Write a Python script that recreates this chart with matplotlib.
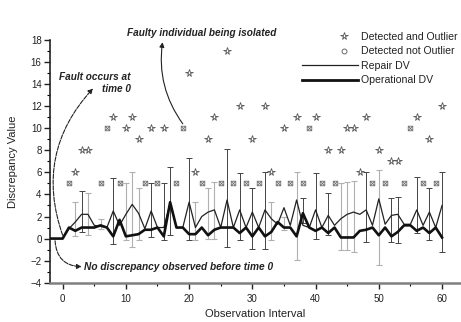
import matplotlib
matplotlib.use('Agg')
import matplotlib.pyplot as plt
import numpy as np
from matplotlib.path import Path
from matplotlib.lines import Line2D
from matplotlib.legend_handler import HandlerLine2DCompound

# ---------------- data ----------------
obs = list(range(-2, 61))
repair_dv = [0, 0, 0, 0.9, 1.5, 2.2, 2.2, 1.2, 1.1, 1.0, 2.5, 1.2, 2.2, 3.1, 2.3, 0.9,
             2.5, 1.0, 1.0, 3.2, 1.0, 1.0, 3.3, 1.0, 2.0, 2.4, 2.6, 1.0, 3.5, 1.0, 2.6,
             1.0, 2.4, 1.0, 2.6, 1.8, 1.3, 2.8, 1.2, 3.5, 1.2, 1.0, 2.6, 1.0, 2.1, 1.2,
             1.8, 2.2, 2.4, 2.2, 2.6, 1.2, 3.6, 1.3, 2.1, 2.2, 1.3, 1.3, 2.6, 1.2, 2.4,
             1.0, 3.0]
operational_dv = [0, 0, 0, 1.0, 0.7, 1.0, 1.0, 1.0, 1.2, 1.0, 0.2, 1.7, 0.2, 0.3, 0.4,
                  0.8, 0.8, 1.0, 0.2, 3.3, 1.0, 1.0, 0.4, 0.4, 1.0, 0.3, 0.8, 1.0, 1.0,
                  1.0, 0.5, 1.0, 0.2, 1.0, 0.2, 0.6, 1.5, 1.0, 1.0, 0.2, 2.3, 1.0, 0.7,
                  1.0, 0.5, 1.0, 0.1, 0.1, 0.1, 0.7, 0.8, 1.0, 0.3, 1.0, 0.2, 0.6, 1.2,
                  1.2, 0.7, 1.0, 0.5, 1.0, 0.1]

# error bars (dark)
dark_err_x = [3, 8, 14, 16, 17, 20, 26, 28, 30, 32, 38, 40, 42, 48, 52, 53, 56, 58, 60]
dark_err_lo = [0.6, -0.5, 0.1, -0.1, 0.3, -0.1, -0.8, -0.1, -0.9, -0.9, 1.4, 0.0, 0.3,
               -0.3, -0.3, -0.4, 0.5, -0.1, -1.2]
dark_err_hi = [4.3, 5.5, 5.0, 5.0, 6.5, 7.3, 8.1, 5.9, 4.6, 6.0, 3.7, 5.9, 4.1,
               6.0, 3.7, 3.8, 5.6, 4.6, 6.0]
# error bars (light)
light_err_x = [2, 4, 6, 10, 11, 12, 21, 23, 24, 33, 35, 37, 44, 45, 46, 50]
light_err_lo = [0.2, 0.3, 0.9, -0.1, -0.75, -0.1, -0.1, 0.0, 0.0, -0.1, 0.8, -1.95,
                -1.0, -1.0, -1.2, -2.4]
light_err_hi = [3.3, 4.1, 1.8, 5.0, 6.05, 4.6, 3.3, 4.6, 5.15, 3.3, 2.0, 6.05,
                5.0, 5.15, 5.2, 6.2]

# detected and outlier (stars)
outlier_x = [2, 3, 4, 8, 10, 11, 12, 14, 16, 20, 21, 23, 24, 26, 28, 30, 32, 33, 35,
             37, 40, 42, 44, 45, 46, 47, 48, 50, 52, 53, 56, 58, 60]
outlier_y = [6, 8, 8, 11, 10, 11, 9, 10, 10, 15, 6, 9, 11, 17, 12, 9, 12, 6, 10,
             11, 11, 8, 8, 10, 10, 6, 11, 8, 7, 7, 11, 9, 12]
# detected not outlier
notout_x = [1, 6, 7, 9, 13, 15, 18, 19, 22, 25, 27, 29, 31, 34, 36, 38, 39, 41, 43,
            49, 51, 54, 55, 57, 59]
notout_y = [5, 5, 10, 5, 5, 5, 5, 10, 5, 5, 5, 5, 5, 5, 5, 5, 10, 5, 5,
            5, 5, 5, 10, 5, 5]

# ---------------- style ----------------
plt.rcParams['font.family'] = ['Liberation Sans', 'DejaVu Sans']

fig = plt.figure(figsize=(4.61, 3.22), dpi=100)
ax = fig.add_axes([50 / 461, (322 - 282.7) / 322, (461 - 50) / 461, (282.7 - 40) / 322])

# box with X marker
box_x = Path([(-1, -1), (1, -1), (1, 1), (-1, 1), (-1, -1), (1, 1), (-1, 1), (1, -1)],
             [Path.MOVETO, Path.LINETO, Path.LINETO, Path.LINETO, Path.CLOSEPOLY,
              Path.LINETO, Path.MOVETO, Path.LINETO])


def draw_err(xs, lo, hi, color, lw):
    xs = np.asarray(xs, float)
    lo = np.asarray(lo, float)
    hi = np.asarray(hi, float)
    mid = (lo + hi) / 2
    ax.errorbar(xs, mid, yerr=(hi - lo) / 2, fmt='none', ecolor=color,
                elinewidth=lw, capsize=2.3, capthick=lw, zorder=2)


draw_err(light_err_x, light_err_lo, light_err_hi, '#b0b0b0', 0.8)
draw_err(dark_err_x, dark_err_lo, dark_err_hi, '#444444', 0.7)

ax.plot(obs, repair_dv, color='#222222', lw=0.9, zorder=3)
ax.plot(obs, operational_dv, color='#111111', lw=1.9, zorder=4)

ax.plot(outlier_x, outlier_y, ls='none', marker='*', ms=5.5, mfc='none',
        mec='#555555', mew=0.6, zorder=5)
ax.plot(notout_x, notout_y, ls='none', marker=box_x, ms=3.3, mfc='none',
        mec='#707070', mew=0.6, zorder=5)

ax.set_xlim(-2, 63)
ax.set_ylim(-4, 18)
ax.set_xticks(range(0, 61, 10))
ax.set_xticks(range(5, 61, 10), minor=True)
ax.set_yticks(range(-4, 19, 2))
ax.set_yticks(range(-3, 18, 2), minor=True)
ax.tick_params(axis='both', which='major', direction='out', length=4, width=1.0,
               labelsize=7, pad=2, colors='#222222')
ax.tick_params(axis='both', which='minor', direction='out', length=2, width=0.8)
ax.tick_params(axis='x', which='major', pad=4)
for s in ('top', 'right'):
    ax.spines[s].set_visible(False)
ax.spines['left'].set_linewidth(1.2)
ax.spines['left'].set_color('#222222')
ax.spines['bottom'].set_linewidth(1.8)
ax.spines['bottom'].set_color('#808080')

ax.set_xlabel('Observation Interval', fontsize=8, color='#222222', labelpad=4)
ax.set_ylabel('Discrepancy Value', fontsize=8, color='#222222', labelpad=9)

# annotations
fnt = dict(fontsize=7.2, fontweight='bold', fontstyle='italic', color='#222222')
ax.text(10.8, 14.1, 'Fault occurs at\ntime 0', ha='right', va='center',
        multialignment='right', linespacing=1.15, **fnt)
ax.annotate('', xy=(4.8, 13.6), xytext=(0.0, 0.3),
            arrowprops=dict(arrowstyle='-|>', color='#222222', lw=0.8, ls=(0, (4, 1.2)),
                            mutation_scale=7, connectionstyle='arc3,rad=-0.3',
                            shrinkA=0, shrinkB=0))
ax.text(10.2, 18.6, 'Faulty individual being isolated', ha='left', va='center',
        clip_on=False, **fnt)
ax.annotate('', xy=(15.8, 17.8), xytext=(19.0, 10.4),
            arrowprops=dict(arrowstyle='-|>', color='#222222', lw=0.8,
                            mutation_scale=7, connectionstyle='arc3,rad=-0.2',
                            shrinkA=0, shrinkB=0))
ax.text(3.4, -2.55, 'No discrepancy observed before time 0', ha='left', va='center',
        **dict(fnt, fontsize=7.3))
ax.annotate('', xy=(3.0, -2.55), xytext=(-1.2, -0.2),
            arrowprops=dict(arrowstyle='-|>', color='#222222', lw=0.8, ls=(0, (4, 1.2)),
                            mutation_scale=7, connectionstyle='arc3,rad=0.45',
                            shrinkA=0, shrinkB=0))


# legend with markers placed toward the right of the handle
class RightMarkerHandler(HandlerLine2DCompound):
    def get_xdata(self, legend, xdescent, ydescent, width, height, fontsize):
        xdata = [-xdescent, -xdescent + width]
        return xdata, [-xdescent + 0.75 * width]


h1 = Line2D([], [], ls='none', marker='*', ms=5.5, mfc='none', mec='#555555', mew=0.6)
h2 = Line2D([], [], ls='none', marker='o', ms=3.5, mfc='none', mec='#666666', mew=0.7)
h3 = Line2D([], [], color='#222222', lw=0.9)
h4 = Line2D([], [], color='#111111', lw=2.0)
leg = fig.legend([h1, h2, h3, h4],
                 ['Detected and Outlier', 'Detected not Outlier', 'Repair DV', 'Operational DV'],
                 loc='upper left', bbox_to_anchor=(302 / 461, 1 - 32 / 322),
                 frameon=False, fontsize=7.6, handlelength=5.3, handletextpad=0.3,
                 labelspacing=0.42, borderpad=0, borderaxespad=0,
                 handler_map={h1: RightMarkerHandler(numpoints=1),
                              h2: RightMarkerHandler(numpoints=1)})
for t in leg.get_texts():
    t.set_color('#222222')

fig.savefig('out.png', dpi=100)
